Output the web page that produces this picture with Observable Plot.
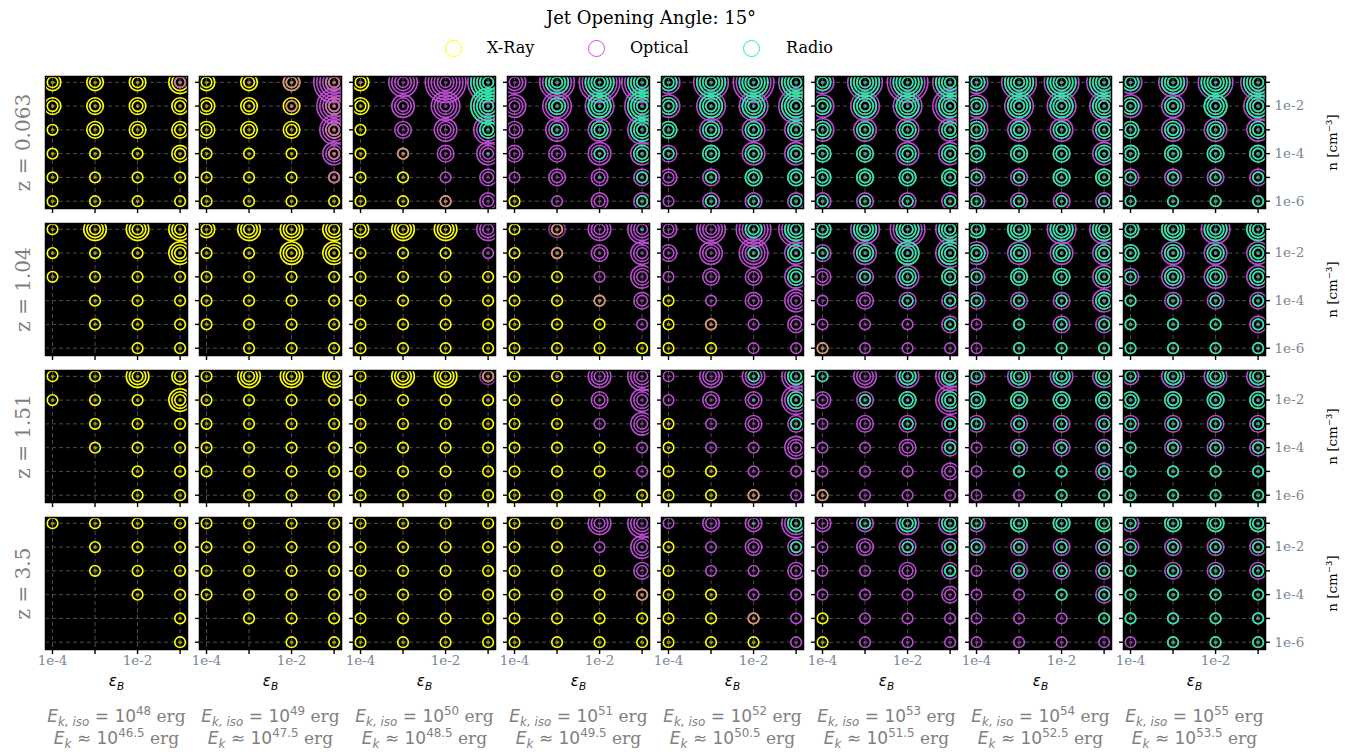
<!DOCTYPE html>
<html><head><meta charset="utf-8">
<script src="https://cdn.jsdelivr.net/npm/d3@7"></script>
<script src="https://cdn.jsdelivr.net/npm/@observablehq/plot@0.6"></script>
<style>
body{margin:0;background:#fff;}
#wrap{position:relative;width:1363px;height:754px;overflow:hidden;background:#fff;}
#header{position:relative;height:65px;font-family:"DejaVu Serif";color:#000;}
.title{position:absolute;left:0;width:1302px;top:7px;text-align:center;font-size:18px;line-height:22px;}
.sw{position:absolute;width:15px;height:15px;border-radius:50%;border:1.6px solid;box-sizing:content-box;top:40px;}
.lab{position:absolute;font-size:16px;line-height:20px;top:38px;}
#chart svg{display:block;}
</style></head>
<body><div id="wrap"><div id="header"></div><div id="chart"></div></div>
<script>
// ---------------- data ----------------
const zValues = ["0.063", "1.04", "1.51", "3.5"];
const energies = [48, 49, 50, 51, 52, 53, 54, 55];           // log10 E_k,iso
const jetEnergies = ["46.5", "47.5", "48.5", "49.5", "50.5", "51.5", "52.5", "53.5"]; // log10 E_k
const epsB = [-4, -3, -2, -1];                                // log10 eps_B
const nDens = [-1, -2, -3, -4, -5, -6];                       // log10 n (top to bottom)
const xTickLabels = [-4, -2];
const yTickLabels = [-2, -4, -6];
const bands = ["X-Ray", "Optical", "Radio"];
const bandColors = ["#ffff00", "#c452dc", "#26eea0"];

// ring counts per cell: 6 rows (n = 1e-1 .. 1e-6) x 4 cols (eps_B = 1e-4 .. 1e-1)
// lowercase letters = faint optical rings (a=1, b=2, c=3)
const Z0 = "0000 0000 0000 0000 0000 0000";
const xrayRings = [
  ["3334 3333 2333 2223 2222 2222", "3333 3333 3333 2222 2222 2222", "3000 3000 2000 2200 2200 2220", "0000 0000 0000 0000 0000 2000", Z0, Z0, Z0, Z0],
  ["2444 2224 2222 0222 0222 0022", "3444 2244 2222 2222 2222 0222", "3440 2220 2222 2222 2222 2222", "2200 2200 2200 2220 2220 2222", "0000 0000 0000 2000 2200 2200", "0000 0000 0000 0000 0000 2000", Z0, Z0],
  ["2243 2224 0222 0222 0022 0022", "2444 2222 2222 2222 2222 0222", "2442 2222 2222 2222 2222 2222", "2200 2200 2200 2220 2220 2222", "0000 0000 2000 2000 2200 2220", "0000 0000 0000 0000 0000 2000", Z0, Z0],
  ["2222 0222 0222 0022 0002 0002", "2222 2222 2222 2222 0222 0022", "2222 2222 2222 2222 2222 2222", "2200 2200 2220 2222 2222 2222", "0000 2000 2000 2200 2220 2220", "0000 0000 0000 0000 2000 2000", Z0, Z0]
];
const opticalRings = [
  ["0002 0000 0000 0000 0000 0000", "01c7 00b6 0005 0004 0002 0000", "1577 0456 0345 0b34 0023 00b3", "4677 4556 3445 3344 2333 0233", "4676 4556 3444 3344 3333 2333", "4676 4556 4444 3344 3333 3333", "4666 4555 4444 3334 3333 3333", "4566 4445 3444 3333 3333 2222"],
  [Z0, Z0, "0004 0002 000a 0000 0000 0000", "0c45 0b34 0024 00b3 0002 0000", "3566 3454 2334 0234 0b23 0022", "3565 3445 3343 2333 2223 b222", "3455 4444 3334 3334 2233 2222", "3454 3444 3444 2333 2223 2222"],
  [Z0, Z0, "000c 000a 0000 0000 0000 0000", "0145 0134 0024 0002 0002 0000", "2445 2335 1233 0224 0022 00b2", "2445 3335 2333 2233 2223 b222", "3444 3333 3333 2333 2223 2222", "3444 3333 3333 2333 2222 2222"],
  [Z0, Z0, Z0, "0045 0024 0003 000b 0000 0000", "2335 0233 0223 0022 00b2 0002", "3344 2333 2233 2223 0222 0222", "3333 3333 2333 2223 2222 2222", "3333 3333 2333 2222 2222 2222"]
];
const radioRings = [
  [Z0, Z0, "0006 0006 0003 0001 0000 0000", "0455 0345 0234 0023 0012 0002", "3555 3445 3333 2333 0233 0222", "3555 3444 3333 3333 3333 2222", "3555 3444 3333 3333 2233 2222", "3455 3344 3333 3333 2222 2222"],
  [Z0, Z0, Z0, "0001 0000 0000 0000 0000 0000", "0034 0023 0003 0000 0000 0000", "3444 2344 0233 0022 0002 0000", "3444 3333 2333 2223 0222 0222", "3444 3333 2333 2222 2222 2222"],
  [Z0, Z0, Z0, Z0, "0023 0013 0002 0000 0000 0000", "2033 0233 0022 0002 0000 0000", "2333 3333 2222 0222 0222 0022", "2333 3333 2222 2222 2222 2222"],
  [Z0, Z0, Z0, Z0, "0013 0002 0000 0000 0000 0000", "0233 0022 0002 0000 0000 0000", "2333 2222 0222 0022 0002 0000", "2333 2222 2222 2222 2222 0222"]
];

// ---------------- build table ----------------
const ringRadius = k => (k === 1 ? 1.9 : 5.3 + 3.0 * (k - 2));
const rings = [];
[xrayRings, opticalRings, radioRings].forEach((table, bi) => {
  table.forEach((panels, zi) => panels.forEach((code, ei) => {
    const cells = code.replace(/ /g, "");
    for (let i = 0; i < cells.length; i++) {
      const ch = cells[i];
      let cnt, faint = false;
      if (/[a-z]/.test(ch)) { cnt = ch.charCodeAt(0) - 96; faint = true; } else cnt = +ch;
      for (let k = 1; k <= cnt; k++) {
        rings.push({band: bands[bi], z: zValues[zi], E: energies[ei], eps: epsB[i % 4], n: nDens[Math.floor(i / 4)], k, r: ringRadius(k), faint});
      }
    }
  }));
});

// ---------------- header (title + legend) ----------------
const header = document.getElementById("header");
header.innerHTML = `<div class="title">Jet Opening Angle: 15°</div>`;
const legendPos = [[454, 487], [597, 630], [752, 786]];
bands.forEach((b, i) => {
  const sw = document.createElement("div");
  sw.className = "sw"; sw.style.left = (legendPos[i][0] - 9) + "px"; sw.style.borderColor = bandColors[i];
  header.appendChild(sw);
  const lab = document.createElement("div");
  lab.className = "lab"; lab.style.left = legendPos[i][1] + "px"; lab.textContent = b;
  header.appendChild(lab);
});

// ---------------- plot ----------------
const xDom = [-4.165, -0.826];
const yDom = [-6.307, -0.756];
const vTick = {draw(ctx) { ctx.moveTo(0, 0); ctx.lineTo(0, 4.5); }};
const hTickL = {draw(ctx) { ctx.moveTo(0, 0); ctx.lineTo(-4.5, 0); }};
const hTickR = {draw(ctx) { ctx.moveTo(0, 0); ctx.lineTo(4.5, 0); }};

const pos = {x: "eps", y: "n", fx: "E", fy: "z", clip: true};
const bandMarks = [];
bands.forEach((b, i) => {
  for (const faint of [false, true]) {
    const op = faint ? 0.65 : (i === 1 ? 0.92 : 1);
    bandMarks.push(Plot.dot(rings.filter(d => d.band === b && d.faint === faint && d.k === 1),
      {...pos, r: "r", fill: bandColors[i], fillOpacity: op * 0.5, stroke: "none"}));
    bandMarks.push(Plot.dot(rings.filter(d => d.band === b && d.faint === faint && d.k > 1),
      {...pos, r: "r", fill: "none", stroke: bandColors[i], strokeOpacity: op, strokeWidth: 1.6}));
  }
});

const leftTicks = energies.slice(1).flatMap(E => nDens.map(n => ({E, n})));
const rightTicks = nDens.map(n => ({E: energies[7], n}));
const rightLabels = yTickLabels.map(n => ({E: energies[7], n}));
const bottomLabels = xTickLabels.map(eps => ({z: zValues[3], eps}));
const zLabels = zValues.map(z => ({z, E: energies[0]}));
const nLabels = zValues.map(z => ({z, E: energies[7]}));
const colLabels = energies.map((E, i) => ({E, z: zValues[3], jet: jetEnergies[i]}));

const plot = Plot.plot({
  width: 1363, height: 689,
  marginTop: 11, marginBottom: 105, marginLeft: 45, marginRight: 98,
  fx: {domain: energies, paddingInner: 12 / 154, paddingOuter: 0, round: false, axis: null},
  fy: {domain: zValues, paddingInner: 15 / 147, paddingOuter: 0, round: false, axis: null},
  x: {domain: xDom, axis: null},
  y: {domain: yDom, axis: null},
  r: {type: "linear", domain: [0, 40], range: [0, 40]},
  style: {fontFamily: "DejaVu Serif", fontSize: "13px", background: "white", overflow: "visible"},
  marks: [
    Plot.frame({fill: "#000", stroke: "none"}),
    Plot.ruleX(epsB, {x: d => d, stroke: "#4d4d4d", strokeDasharray: "4,3", strokeWidth: 1}),
    Plot.ruleY(nDens, {y: d => d, stroke: "#4d4d4d", strokeDasharray: "4,3", strokeWidth: 1}),
    ...bandMarks,
    Plot.frame({stroke: "#000", strokeWidth: 1.5}),
    Plot.dot(epsB, {x: d => d, frameAnchor: "bottom", symbol: vTick, r: 3, fill: "none", stroke: "#000", strokeWidth: 1.4}),
    Plot.dot(leftTicks, {fx: "E", y: "n", frameAnchor: "left", symbol: hTickL, r: 3, fill: "none", stroke: "#000", strokeWidth: 1.4}),
    Plot.dot(rightTicks, {fx: "E", y: "n", frameAnchor: "right", symbol: hTickR, r: 3, fill: "none", stroke: "#000", strokeWidth: 1.4}),
    Plot.text(rightLabels, {fx: "E", y: "n", frameAnchor: "right", dx: 9, textAnchor: "start", text: d => `1e${d.n}`, fill: "#778899", fontSize: 13.5}),
    Plot.text(bottomLabels, {fy: "z", x: "eps", frameAnchor: "bottom", dy: 15, text: d => `1e${d.eps}`, fill: "#778899", fontSize: 13.5}),
    Plot.text(zLabels, {fx: "E", fy: "z", frameAnchor: "left", dx: -22, rotate: -90, textAnchor: "middle", text: d => `z = ${d.z}`, fill: "#808080", fontSize: 20}),
    Plot.text(nLabels, {fx: "E", fy: "z", frameAnchor: "right", dx: 67, rotate: -90, textAnchor: "middle", text: () => "n [cm⁻³]", fill: "#000", fontSize: 13.5}),
    Plot.text(colLabels, {fx: "E", fy: "z", frameAnchor: "bottom", dy: 36, text: () => "@eps", fill: "#000", fontSize: 15}),
    Plot.text(colLabels, {fx: "E", fy: "z", frameAnchor: "bottom", dy: 72, text: d => `@iso:${d.E}`, fill: "#808080", fontSize: 17}),
    Plot.text(colLabels, {fx: "E", fy: "z", frameAnchor: "bottom", dy: 94, text: d => `@jet:${d.jet}`, fill: "#808080", fontSize: 17})
  ]
});

// rich text (italic / sub / superscripts) for math labels
const NS = "http://www.w3.org/2000/svg";
function parts(key) {
  if (key === "eps") return [{t: "ε", it: 1}, {t: "B", it: 1, sub: 1}];
  const [kind, v] = key.split(":");
  if (kind === "iso") return [{t: "E", it: 1}, {t: "k, iso", it: 1, sub: 1}, {t: " = 10"}, {t: v, sup: 1}, {t: " erg", serif: 1}];
  return [{t: "E", it: 1}, {t: "k", it: 1, sub: 1}, {t: " ≈ 10"}, {t: v, sup: 1}, {t: " erg", serif: 1}];
}
plot.querySelectorAll("text").forEach(el => {
  const s = el.textContent;
  if (!s.startsWith("@")) return;
  el.textContent = "";
  let shift = 0;
  parts(s.slice(1)).forEach(p => {
    const ts = document.createElementNS(NS, "tspan");
    ts.textContent = p.t;
    ts.setAttribute("font-family", p.serif ? "DejaVu Serif" : "DejaVu Sans");
    if (p.it) ts.setAttribute("font-style", "italic");
    let target = 0;
    if (p.sub) { ts.setAttribute("font-size", "0.7em"); target = 4; }
    if (p.sup) { ts.setAttribute("font-size", "0.7em"); target = -7; }
    if (target !== shift) { ts.setAttribute("dy", target - shift); shift = target; }
    el.appendChild(ts);
  });
});
document.getElementById("chart").appendChild(plot);
</script></body></html>
